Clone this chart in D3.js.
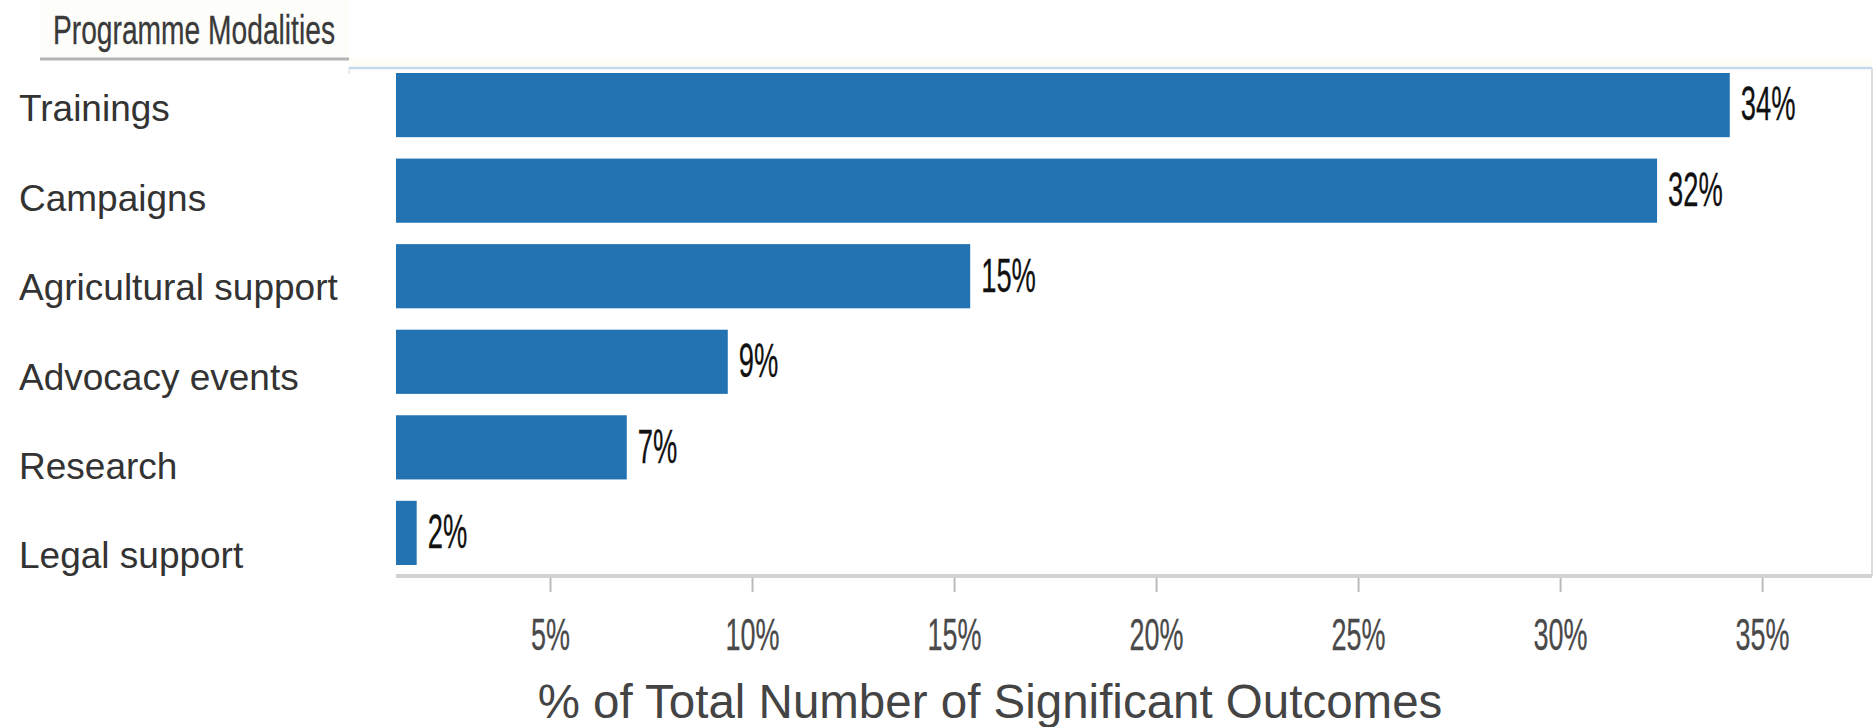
<!DOCTYPE html>
<html>
<head>
<meta charset="utf-8">
<script src="https://cdn.jsdelivr.net/npm/d3@7"></script>
<style>
    body { margin: 0; background: #fff; }
    svg { display: block; font-family: "Liberation Sans", Arial, sans-serif; }
</style>
</head>
<body>
<svg id="chart" width="1876" height="727"></svg>
<script>
// Chart data
const categories = ['Trainings', 'Campaigns', 'Agricultural support', 'Advocacy events', 'Research', 'Legal support'];
const shares = [34.2, 32.4, 15.4, 9.4, 6.9, 1.7];
const tickValues = [5, 10, 15, 20, 25, 30, 35];
const chartTitle = 'Programme Modalities';
const axisTitle = '% of Total Number of Significant Outcomes';

const svg = d3.select('#chart');

// Plot frame
const plot = { left: 396, right: 1872, top: 68, bottom: 576 };

// Scales
const x = d3.scaleLinear().domain([0, 37.72]).range([348, plot.right]);
const y = d3.scaleBand().domain(categories).range([73, 565]).paddingInner(0.25).paddingOuter(0);
const yLabel = d3.scalePoint().domain(categories).range([108, 555]);

// Title box
svg.append('rect')
    .attr('x', 40).attr('y', 0).attr('width', 309).attr('height', 59)
    .attr('fill', '#fdfdfa');
svg.append('rect')
    .attr('x', 349).attr('y', 58).attr('width', plot.right - 349).attr('height', 9)
    .attr('fill', '#fffdf6');
svg.append('text')
    .attr('transform', 'translate(53,44) scale(0.705,1)')
    .attr('font-size', 40)
    .attr('fill', '#3a3a3a')
    .attr('stroke', '#3a3a3a').attr('stroke-width', 0.3)
    .text(chartTitle);
svg.append('line')
    .attr('x1', 40).attr('x2', 349).attr('y1', 59).attr('y2', 59)
    .attr('stroke', '#b4b4b4').attr('stroke-width', 3);

// Frame lines
svg.append('line')
    .attr('x1', 349).attr('x2', plot.right).attr('y1', plot.top).attr('y2', plot.top)
    .attr('stroke', '#c2daec').attr('stroke-width', 2.5);
svg.append('line')
    .attr('x1', 349).attr('x2', 349).attr('y1', plot.top).attr('y2', plot.top + 6)
    .attr('stroke', '#d6d6d6').attr('stroke-width', 1);
svg.append('line')
    .attr('x1', plot.right).attr('x2', plot.right).attr('y1', plot.top).attr('y2', plot.bottom)
    .attr('stroke', '#dddddd').attr('stroke-width', 2);

// Bars
svg.append('g')
    .selectAll('rect')
    .data(categories)
    .join('rect')
    .attr('x', plot.left)
    .attr('y', d => y(d))
    .attr('width', (d, i) => x(shares[i]) - plot.left)
    .attr('height', y.bandwidth())
    .attr('fill', '#2373b3');

// Value labels
svg.append('g')
    .selectAll('text')
    .data(categories)
    .join('text')
    .attr('transform', (d, i) => `translate(${x(shares[i]) + 11},${y(d) + y.bandwidth() / 2 - 2}) scale(0.57,1)`)
    .attr('dy', '0.36em')
    .attr('font-size', 48)
    .attr('fill', '#111')
    .attr('stroke', '#111').attr('stroke-width', 0.3)
    .text((d, i) => Math.round(shares[i]) + '%');

// Category labels
svg.append('g')
    .selectAll('text')
    .data(categories)
    .join('text')
    .attr('x', 19)
    .attr('y', d => yLabel(d))
    .attr('dy', '0.36em')
    .attr('font-size', 37)
    .attr('fill', '#333')
    .text(d => d);

// X axis
const xAxis = svg.append('g')
    .attr('transform', `translate(0,${plot.bottom})`)
    .call(d3.axisBottom(x).tickValues(tickValues).tickSize(16).tickFormat(d => d + '%'));
xAxis.select('.domain').remove();
xAxis.selectAll('.tick line').attr('stroke', '#bbb').attr('stroke-width', 2);
xAxis.selectAll('.tick text')
    .attr('font-size', 45)
    .attr('fill', '#4a4a4a')
    .attr('stroke', '#4a4a4a').attr('stroke-width', 0.3)
    .attr('y', 0)
    .attr('dy', 0)
    .attr('transform', 'translate(0,74) scale(0.6,1)');
svg.append('line')
    .attr('x1', plot.left).attr('x2', plot.right).attr('y1', plot.bottom).attr('y2', plot.bottom)
    .attr('stroke', '#d2d2d2').attr('stroke-width', 4);

// Axis title
svg.append('text')
    .attr('x', 990)
    .attr('y', 718)
    .attr('text-anchor', 'middle')
    .attr('font-size', 47.5)
    .attr('fill', '#444')
    .text(axisTitle);
</script>
</body>
</html>
